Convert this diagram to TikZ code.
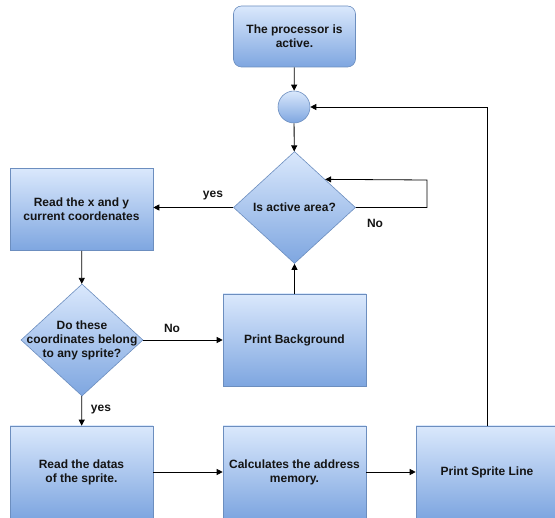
\documentclass[tikz,border=0pt]{standalone}
\usepackage{fontspec}
\setmainfont{Liberation Sans}
\usetikzlibrary{shapes.geometric, arrows.meta}

\definecolor{boxtop}{HTML}{DAE8FC}
\definecolor{boxbot}{HTML}{7EA6E0}
\definecolor{boxline}{HTML}{6C8EBF}
\definecolor{ink}{HTML}{141414}

\tikzset{
	flow/.style = {draw = boxline, top color = boxtop, bottom color = boxbot, semithick},
	stepbox/.style = {flow, rectangle, minimum width = 143pt, minimum height = 92pt, inner sep = 0pt,
		align = center, font = \fontsize{12}{14}\selectfont\bfseries, text = ink},
	decision/.style = {flow, diamond, minimum width = 122pt, minimum height = 112pt, inner sep = 0pt},
	dtext/.style = {align = center, font = \fontsize{12}{14}\selectfont\bfseries, text = ink},
	arrow/.style = {draw = black, thick, -{Triangle[length = 6pt, width = 6pt]}},
	answer/.style = {font = \fontsize{12}{14}\selectfont\bfseries, text = ink}
}

\begin{document}
\begin{tikzpicture}[x = 1pt, y = -1pt]
		\clip (0,0) rectangle (555,518);

		\node (proc) at (294.5,36.5) [stepbox, rounded corners = 8pt, minimum width = 122pt, minimum height = 61pt] {The processor is\\active.};
		\node (circ) at (294,107) [flow, circle, minimum size = 32pt, inner sep = 0pt] {};
		\node (act) at (294.5,207.5) [decision, label = {[dtext]center:Is active area?}] {};
		\node (read) at (81.5,209.5) [stepbox, minimum height = 82pt] {Read the x and y\\current coordenates};
		\node (belong) at (82,340) [decision, label = {[dtext]center:Do these\\coordinates belong\\to any sprite?}] {};
		\node (bg) at (294.5,340) [stepbox] {Print Background};
		\node (datas) at (81.5,472) [stepbox] {Read the datas\\of the sprite.};
		\node (addr) at (294.5,472) [stepbox] {Calculates the address\\memory.};
		\node (sprite) at (487,472) [stepbox, minimum width = 142pt] {Print Sprite Line};

		\node (yes1) at (213,195.5) [answer] {yes};
		\node (no1) at (375,223) [answer] {No};
		\node (no2) at (172,328) [answer] {No};
		\node (yes2) at (101,409.5) [answer] {yes};

		\coordinate (loop) at (427,180);

		\draw [arrow] (proc) -- (circ);
		\draw [arrow] (circ) -- (act);
		\draw [arrow] (act.east) -| (loop) -- (act.north east);
		\draw [arrow] (act.west) -- (read.east |- act.west);
		\draw [arrow] (read) -- (belong);
		\draw [arrow] (belong.east) -- (bg.west);
		\draw [arrow] (bg) -- (act);
		\draw [arrow] (belong) -- (datas);
		\draw [arrow] (datas) -- (addr);
		\draw [arrow] (addr) -- (sprite);
		\draw [arrow] (sprite.north) |- (circ.east);
\end{tikzpicture}
\end{document}
